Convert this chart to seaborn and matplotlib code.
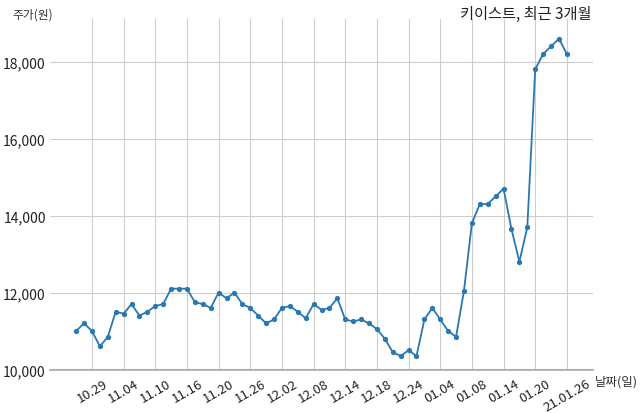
import matplotlib
matplotlib.use("Agg")
import matplotlib.pyplot as plt
import seaborn as sns
import pandas as pd

dates = ["10.27", "10.28", "10.29", "10.30",
         "11.02", "11.03", "11.04", "11.05", "11.06",
         "11.09", "11.10", "11.11", "11.12", "11.13",
         "11.16", "11.17", "11.18", "11.19", "11.20",
         "11.23", "11.24", "11.25", "11.26", "11.27", "11.30",
         "12.01", "12.02", "12.03", "12.04",
         "12.07", "12.08", "12.09", "12.10", "12.11",
         "12.14", "12.15", "12.16", "12.17", "12.18",
         "12.21", "12.22", "12.23", "12.24",
         "12.28", "12.29", "12.30",
         "01.04", "01.05", "01.06", "01.07", "01.08",
         "01.11", "01.12", "01.13", "01.14", "01.15",
         "01.18", "01.19", "01.20", "01.21", "01.22",
         "01.25", "21.01.26"]

prices = [11000, 11200, 11000, 10600, 10850, 11500, 11450, 11700, 11400, 11500,
          11650, 11700, 12100, 12100, 12100, 11750, 11700, 11600, 12000, 11850,
          12000, 11700, 11600, 11400, 11200, 11300, 11600, 11650, 11500, 11330,
          11700, 11550, 11600, 11850, 11300, 11250, 11300, 11200, 11050, 10800,
          10450, 10350, 10500, 10350, 11300, 11600, 11300, 11000, 10850, 12050,
          13800, 14300, 14300, 14500, 14700, 13650, 12800, 13700, 17800, 18200,
          18400, 18600, 18200]

tick_every = 4
tick_start = 2
yticks = [10000, 12000, 14000, 16000, 18000]
ytick_labels = ["10,000", "12,000", "14,000", "16,000", "18,000"]

df = pd.DataFrame({"idx": range(len(prices)), "date": dates, "price": prices})

sns.set_theme(style="white")
plt.rcParams["font.family"] = ["Noto Sans CJK KR", "DejaVu Sans"]

fig = plt.figure(figsize=(6.4, 4.14), dpi=100)
ax = fig.add_axes([50 / 640, 1 - 370.5 / 414, (593 - 50) / 640, (370.5 - 20) / 414])

sns.lineplot(data=df, x="idx", y="price", ax=ax, color="#2a78b0", linewidth=1.3,
             marker="o", markersize=3.8, markeredgewidth=0, zorder=3)

tick_pos = list(range(tick_start, len(dates), tick_every))
ax.set_xticks(tick_pos)
ax.set_xticklabels([dates[i] for i in tick_pos], rotation=30, ha="center",
                   rotation_mode="default", fontsize=9.5, color="#222222")
ax.set_yticks(yticks)
ax.set_yticklabels(ytick_labels, fontsize=10, color="#222222")
ax.set_xlim(-3.3, 65.3)
ax.set_ylim(10000, 19110)

ax.grid(True, color="#cdcdcd", linewidth=0.8)
ax.set_axisbelow(True)
for side in ["top", "right", "left"]:
    ax.spines[side].set_visible(False)
ax.spines["bottom"].set_color("#aaaaaa")
ax.spines["bottom"].set_linewidth(1.2)
ax.tick_params(axis="both", length=0)
ax.tick_params(axis="y", pad=3)
ax.tick_params(axis="x", pad=5)
ax.set_xlabel("")
ax.set_ylabel("")

fig.text(12 / 640, 1 - 15 / 414, "주가(원)", fontsize=8.5, color="#333333", va="center", ha="left")
fig.text(592 / 640, 1 - 14 / 414, "키이스트, 최근 3개월", fontsize=11, color="#222222",
         va="center", ha="right")
fig.text(595 / 640, 1 - 382 / 414, "날짜(일)", fontsize=9, color="#333333", va="center", ha="left")

fig.savefig("out.png", dpi=100)
